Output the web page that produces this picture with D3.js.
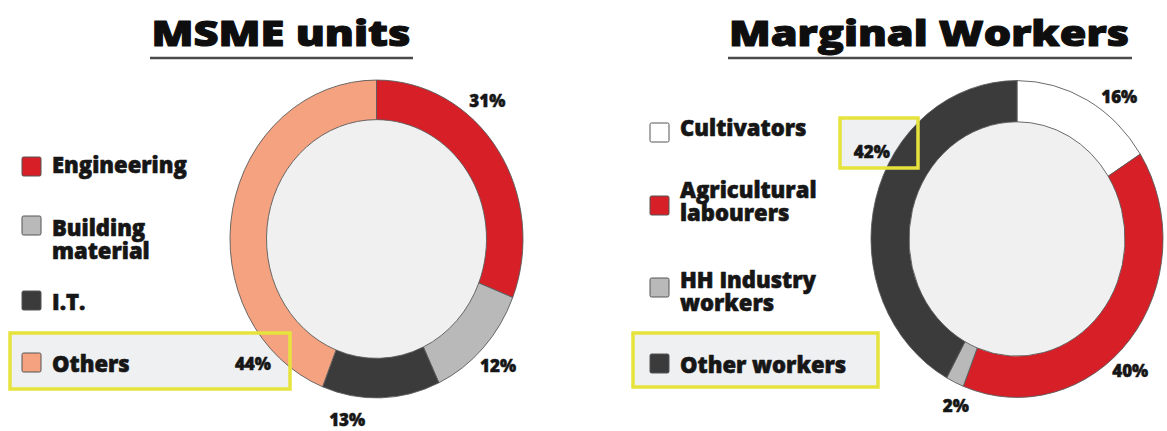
<!DOCTYPE html>
<html>
<head>
<meta charset="utf-8">
<script src="https://cdn.jsdelivr.net/npm/d3@7"></script>
<style>
  html, body { margin: 0; padding: 0; background: #ffffff; }
  svg { display: block; }
  text { font-family: "Open Sans", "Lato", "DejaVu Sans", sans-serif; font-weight: 800; fill: #161616; stroke: #161616; stroke-linejoin: round; }
</style>
</head>
<body>
<svg id="chart" width="1167" height="431"></svg>
<script>
// ---- data ----
const msmeTitle = "MSME units";
const msmeCategories = ["Engineering", "Building\nmaterial", "I.T.", "Others"];
const msmeValues = [31, 12, 13, 44];
const msmeColors = ["#d61f26", "#b9b9b9", "#3b3b3b", "#f4a27f"];

const workerTitle = "Marginal Workers";
const workerCategories = ["Cultivators", "Agricultural\nlabourers", "HH Industry\nworkers", "Other workers"];
const workerValues = [16, 40, 2, 42];
const workerColors = ["#ffffff", "#d61f26", "#b9b9b9", "#3b3b3b"];

// ---- layout ----
const panels = [
  {
    title: msmeTitle, categories: msmeCategories, values: msmeValues, colors: msmeColors,
    titleX: 281, titleW: 259, underline: [150, 413],
    cx: 376.5, cy: 239, rOuter: 146.5, rInner: 110, yScale: 1.085,
    labelRadius: 169, labelAngles: [41, 134, 190, 227],
    legendX: 22, squareTop: [157, 216, 291, 353], textBase: [173, 236, 310, 372],
    boxes: [[10, 333, 280, 56]]
  },
  {
    title: workerTitle, categories: workerCategories, values: workerValues, colors: workerColors,
    titleX: 929, titleW: 400, underline: [728, 1132],
    cx: 1017, cy: 239, rOuter: 146, rInner: 108, yScale: 1.085,
    labelRadius: 166, labelAngles: [38, 137, 201.6, 299],
    legendX: 650, squareTop: [123, 196, 278, 354], textBase: [136, 198, 288, 373],
    boxes: [[633, 333, 245, 54], [840, 118, 78, 50]]
  }
];

const svg = d3.select("#chart");

panels.forEach(p => {
  const g = svg.append("g");

  // title with underline
  g.append("text")
    .attr("x", p.titleX).attr("y", 46)
    .attr("text-anchor", "middle")
    .attr("font-size", 36)
    .attr("textLength", p.titleW)
    .attr("lengthAdjust", "spacingAndGlyphs")
    .style("fill", "#0e0e0e")
    .style("stroke", "#0e0e0e")
    .style("stroke-width", 1.1)
    .text(p.title);
  g.append("line")
    .attr("x1", p.underline[0]).attr("x2", p.underline[1])
    .attr("y1", 58).attr("y2", 58)
    .attr("stroke", "#4a4a4a").attr("stroke-width", 2.5);

  // highlight box fills sit under the donut
  g.selectAll("rect.hl-fill").data(p.boxes).join("rect")
    .attr("class", "hl-fill")
    .attr("x", d => d[0]).attr("y", d => d[1])
    .attr("width", d => d[2]).attr("height", d => d[3])
    .attr("fill", "#eef0f2");

  // donut
  const pie = d3.pie().sort(null).value(d => d)(p.values);
  const arc = d3.arc().innerRadius(p.rInner).outerRadius(p.rOuter);
  const donut = g.append("g")
    .attr("transform", `translate(${p.cx},${p.cy}) scale(1,${p.yScale})`);
  donut.append("circle")
    .attr("r", p.rInner)
    .attr("fill", "#f0f0f1");
  donut.selectAll("path").data(pie).join("path")
    .attr("d", arc)
    .attr("fill", (d, i) => p.colors[i])
    .attr("stroke", "#5a5a5a")
    .attr("stroke-width", 0.9)
    .attr("vector-effect", "non-scaling-stroke");

  // percentage labels placed around the ring
  g.selectAll("text.pct").data(pie).join("text")
    .attr("class", "pct")
    .attr("x", (d, i) => p.cx + p.labelRadius * Math.sin(p.labelAngles[i] * Math.PI / 180))
    .attr("y", (d, i) => p.cy - p.labelRadius * p.yScale * Math.cos(p.labelAngles[i] * Math.PI / 180) + 6)
    .attr("text-anchor", "middle")
    .attr("font-size", 17)
    .style("stroke-width", 0.5)
    .text(d => d.data + "%");

  // legend
  const leg = g.selectAll("g.leg").data(p.categories).join("g").attr("class", "leg");
  leg.append("rect")
    .attr("x", p.legendX).attr("y", (d, i) => p.squareTop[i])
    .attr("width", 19).attr("height", 19).attr("rx", 1.5)
    .attr("fill", (d, i) => p.colors[i])
    .attr("stroke", "#555").attr("stroke-width", 1);
  leg.each(function (d, i) {
    d.split("\n").forEach((line, k) => {
      d3.select(this).append("text")
        .attr("x", p.legendX + 30)
        .attr("y", p.textBase[i] + k * 22.5)
        .attr("font-size", 22)
        .style("stroke-width", 0.6)
        .text(line);
    });
  });

  // highlight box outlines drawn on top
  g.selectAll("rect.hl-line").data(p.boxes).join("rect")
    .attr("class", "hl-line")
    .attr("x", d => d[0]).attr("y", d => d[1])
    .attr("width", d => d[2]).attr("height", d => d[3])
    .attr("fill", "none")
    .attr("stroke", "#e6e43c").attr("stroke-width", 3.5);
});
</script>
</body>
</html>
